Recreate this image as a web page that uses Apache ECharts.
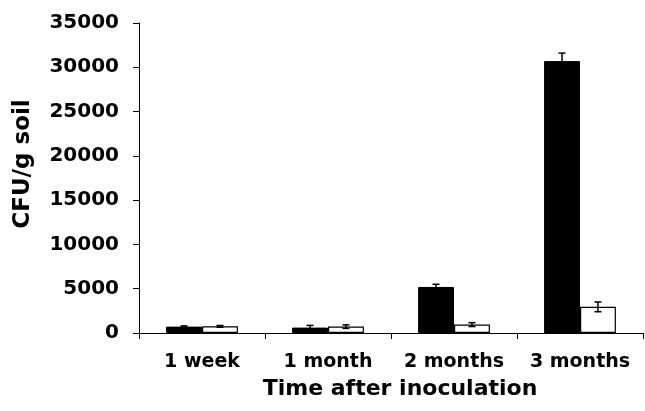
<!DOCTYPE html>
<html>
<head>
<meta charset="utf-8">
<style>
  html, body { margin: 0; padding: 0; background: #fff; }
  #chart { width: 645px; height: 411px; }
</style>
<script src="https://cdn.jsdelivr.net/npm/echarts@6/dist/echarts.min.js"></script>
</head>
<body>
<div id="chart"></div>
<script>
const categories = ['1 week', '1 month', '2 months', '3 months']
const blackValues = [720, 610, 5200, 30700]
const blackErrors = [80, 250, 300, 900]
const whiteValues = [750, 720, 950, 2950]
const whiteErrors = [100, 200, 220, 550]
const yTicks = { min: 0, max: 35000, interval: 5000 }

const barGapPct = 43
const font = 'DejaVu Sans'

// error bar drawn at the left (-1) or right (+1) bar of each category
function errorBar (side) {
  return function (params, api) {
    const idx = api.value(0)
    const val = api.value(1)
    const err = api.value(2)
    const band = api.size([1, 0])[0]
    const barW = band * (1 - barGapPct / 100) / 2
    const c = api.coord([idx, val])
    const x = c[0] + side * barW / 2
    const top = api.coord([idx, val + err])[1]
    const bot = api.coord([idx, val - err])[1]
    const cap = 3.5
    const style = { stroke: '#000', lineWidth: 1.5 }
    return {
      type: 'group',
      children: [
        { type: 'line', shape: { x1: x, y1: top, x2: x, y2: bot }, style: style },
        { type: 'line', shape: { x1: x - cap, y1: top, x2: x + cap, y2: top }, style: style },
        { type: 'line', shape: { x1: x - cap, y1: bot, x2: x + cap, y2: bot }, style: style }
      ]
    }
  }
}

const chart = echarts.init(document.getElementById('chart'))
chart.setOption({
  animation: false,
  grid: { left: 139, right: 2, top: 23, bottom: 78 },
  xAxis: {
    type: 'category',
    data: categories,
    name: 'Time after inoculation',
    nameLocation: 'middle',
    nameGap: 45,
    nameTextStyle: { fontFamily: font, fontWeight: 'bold', fontSize: 22, color: '#000', padding: [0, 0, 0, 18] },
    axisLine: { lineStyle: { color: '#000', width: 1 } },
    axisTick: { show: true, length: 6, lineStyle: { color: '#000' } },
    axisLabel: { interval: 0, hideOverlap: false, fontFamily: font, fontWeight: 'bold', fontSize: 19, color: '#000', margin: 20 }
  },
  yAxis: {
    type: 'value',
    min: yTicks.min,
    max: yTicks.max,
    interval: yTicks.interval,
    name: 'CFU/g soil',
    nameLocation: 'middle',
    nameGap: 104,
    nameTextStyle: { fontFamily: font, fontWeight: 'bold', fontSize: 23, color: '#000', padding: [0, 0, 0, 28] },
    axisLine: { show: true, lineStyle: { color: '#000', width: 1 } },
    axisTick: { show: true, length: 6, lineStyle: { color: '#000' } },
    axisLabel: { fontFamily: font, fontWeight: 'bold', fontSize: 20, color: '#000', margin: 20, formatter: v => String(v) },
    splitLine: { show: false }
  },
  series: [
    {
      type: 'bar',
      data: blackValues,
      barGap: 0,
      barCategoryGap: barGapPct + '%',
      itemStyle: { color: '#000', borderColor: '#000', borderWidth: 1 }
    },
    {
      type: 'bar',
      data: whiteValues,
      barGap: 0,
      barCategoryGap: barGapPct + '%',
      itemStyle: { color: '#fff', borderColor: '#000', borderWidth: 1.2 }
    },
    {
      type: 'custom',
      renderItem: errorBar(-1),
      data: blackValues.map((v, i) => [i, v, blackErrors[i]]),
      z: 10
    },
    {
      type: 'custom',
      renderItem: errorBar(1),
      data: whiteValues.map((v, i) => [i, v, whiteErrors[i]]),
      z: 10
    }
  ]
})
</script>
</body>
</html>
